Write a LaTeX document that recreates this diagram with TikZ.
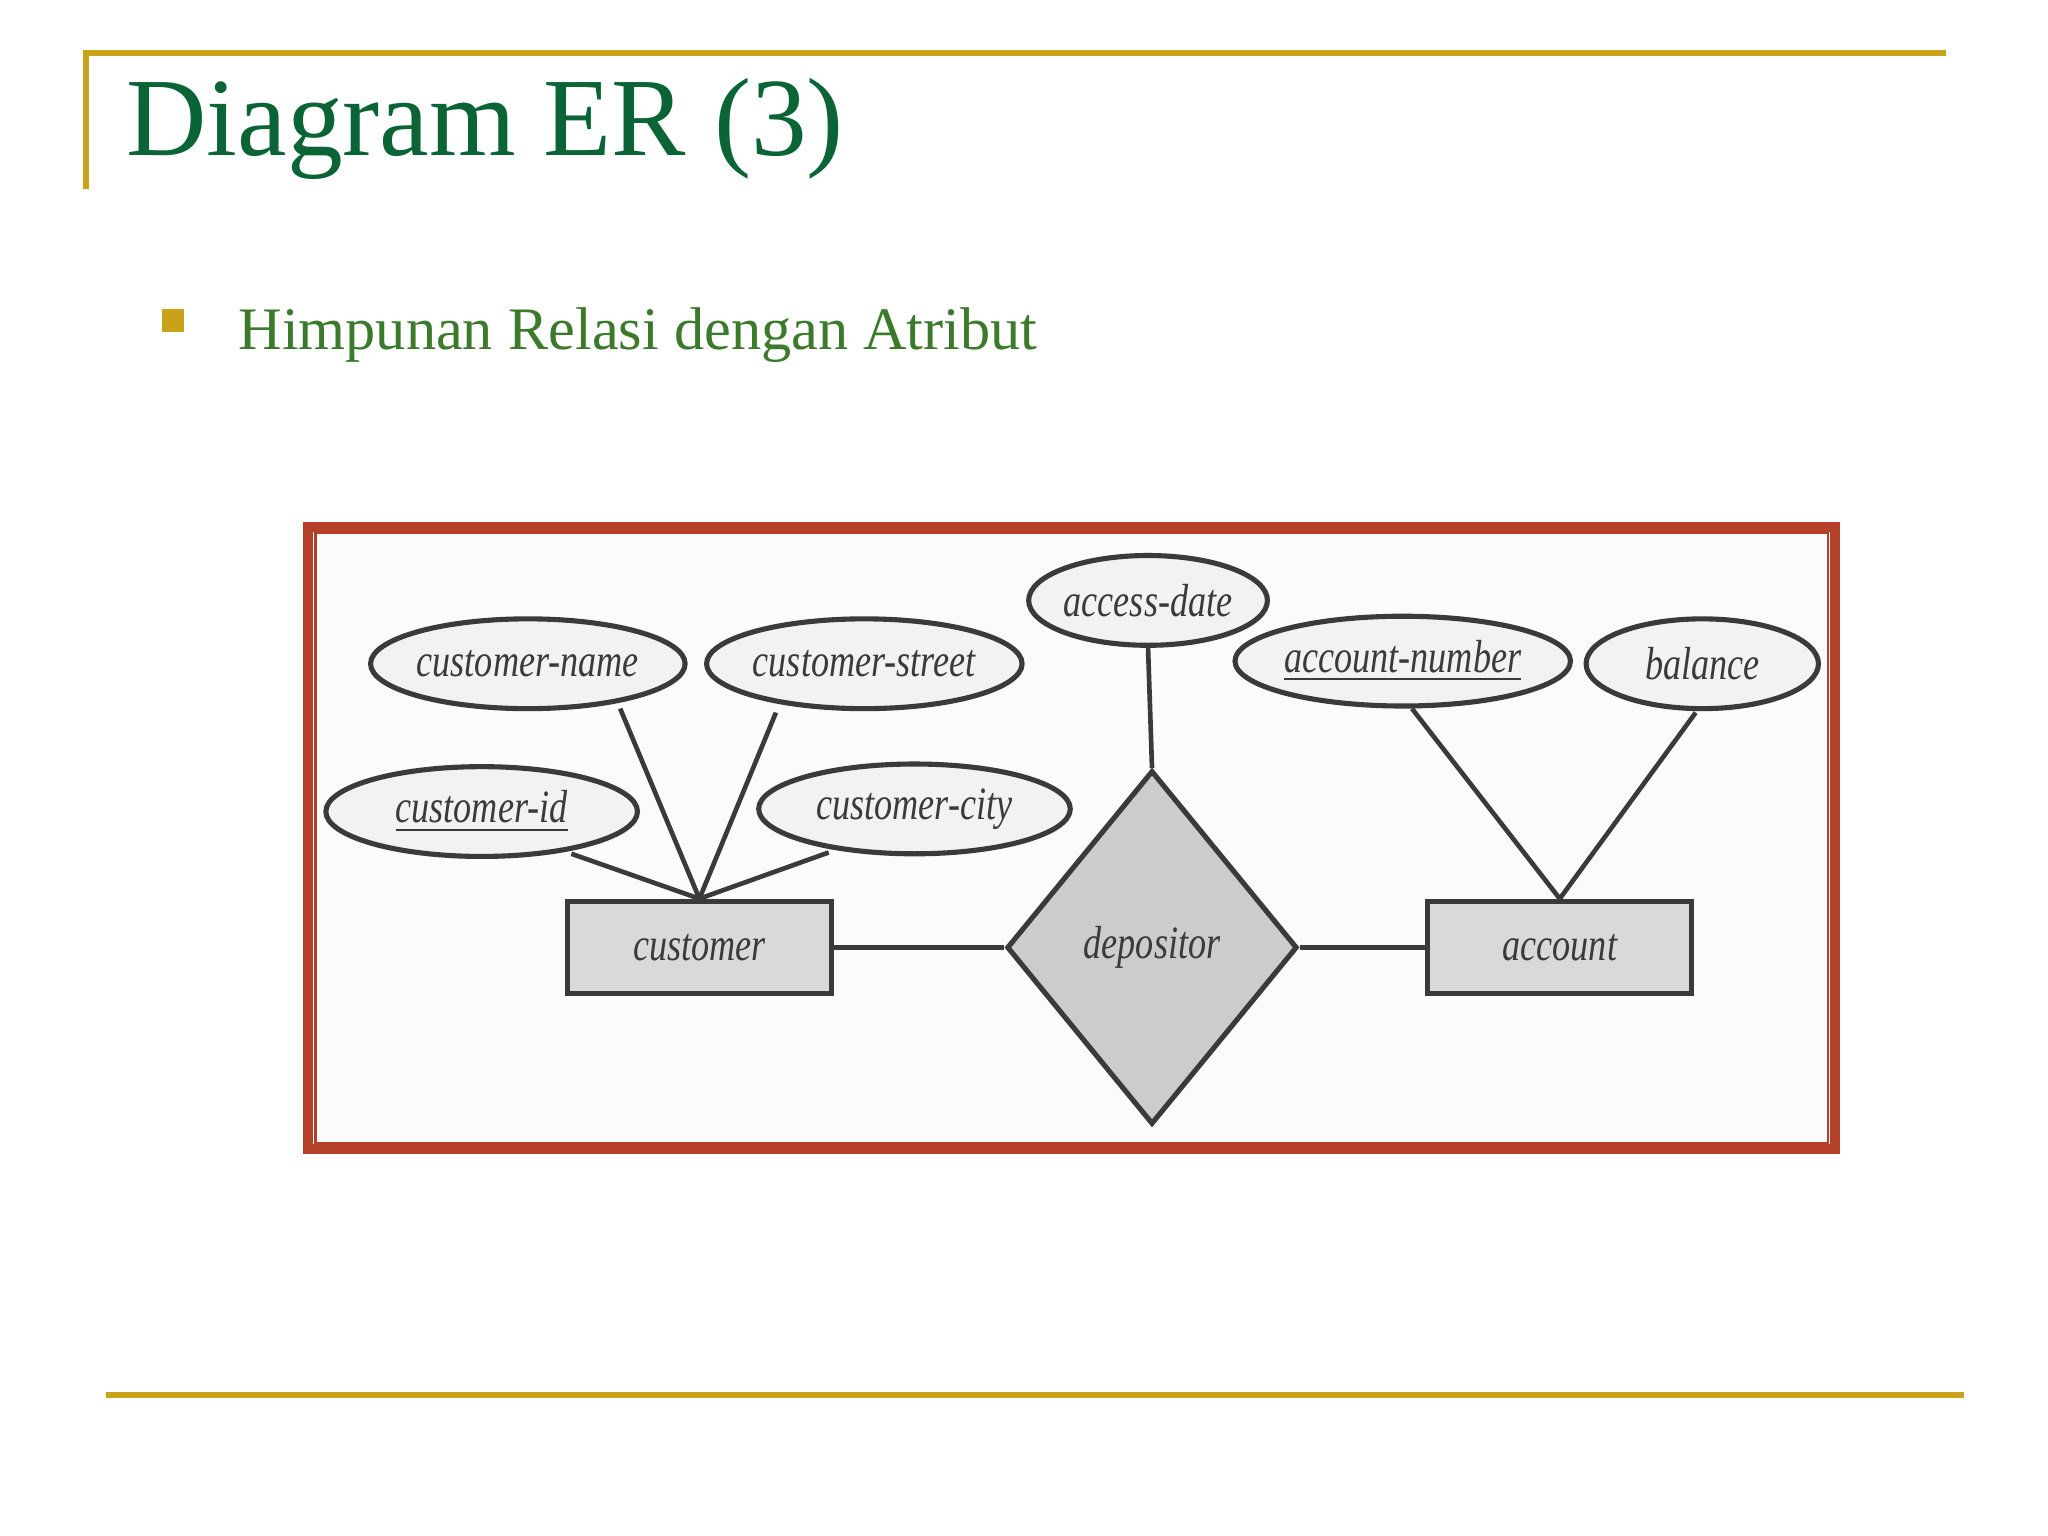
\documentclass[tikz,border=0pt]{standalone}
\usepackage{fontspec}
\setmainfont{Liberation Serif}
\usetikzlibrary{shapes.geometric}
\definecolor{gold}{HTML}{C9A21A}
\definecolor{ttl}{HTML}{0B6436}
\definecolor{sub}{HTML}{3A7A2A}
\definecolor{frm}{HTML}{B5402A}
\definecolor{ink}{HTML}{3A3A3A}
\newcommand{\sq}[1]{\scalebox{0.78}[1]{#1}}
\tikzset{
 attr/.style={ellipse,draw=ink,line width=1.1pt,fill=gray!10,minimum width=#1,minimum height=0.68cm,inner sep=0pt,font=\fontsize{10}{10}\selectfont\itshape,text=ink},
 ent/.style={rectangle,draw=ink,line width=1.1pt,fill=gray!30,minimum width=2cm,minimum height=0.7cm,font=\fontsize{10}{10}\selectfont\itshape,text=ink},
 rel/.style={diamond,draw=ink,line width=1.1pt,fill=gray!40,minimum width=2.2cm,minimum height=2.68cm,inner sep=0pt,font=\fontsize{10}{10}\selectfont\itshape,text=ink},
 conn/.style={draw=ink,line width=1pt},
 rule/.style={draw=gold,line width=1.4pt}
}
\begin{document}
\begin{tikzpicture}[x=0.01cm,y=-0.01cm]
\useasboundingbox (0,0) rectangle (1552,1164);
\draw[rule] (65,143) coordinate (v0) -- (65,40) coordinate (t0) -- (1475,40) coordinate (t1);
\draw[rule] (80,1057) coordinate (b0) -- (1488,1057) coordinate (b1);
\node[anchor=base west,inner sep=0pt,text=ttl,font=\fontsize{24}{24}\selectfont] (title) at (95,118) {Diagram ER (3)};
\node[fill=gold,minimum size=0.17cm,inner sep=0pt] (bul) at (131,243) {};
\node[anchor=base west,inner sep=0pt,text=sub,font=\fontsize{13}{13}\selectfont] (subt) at (180,265) {Himpunan Relasi dengan Atribut};
\node[draw=frm,line width=2.2pt,fill=gray!3,minimum width=11.56cm,minimum height=4.71cm,inner sep=0pt] (frame) at (812,635) {};
\draw[frm,line width=0.5pt] (239,404) rectangle (1385,866);
\node[attr=2.36cm] (cn) at (400,503) {\sq{customer-name}};
\node[attr=2.36cm] (cs) at (655,503) {\sq{customer-street}};
\node[attr=2.36cm] (ci) at (365,615) {\sq{\underline{customer-id}}};
\node[attr=2.36cm] (cc) at (693,613) {\sq{customer-city}};
\node[attr=1.76cm] (ad) at (870,455) {\sq{access-date}};
\node[attr=2.4cm] (an) at (1063,501) {\sq{\underline{account-number}}};
\node[attr=1.76cm] (ba) at (1290,503) {\sq{balance}};
\node[ent] (cu) at (530,718) {\sq{customer}};
\node[ent] (ac) at (1182,718) {\sq{account}};
\node[rel] (de) at (873,718) {\sq{depositor}};
\draw[conn] (cu.north) -- (470,537);
\draw[conn] (cu.north) -- (588,540);
\draw[conn] (cu.north) -- (433,647);
\draw[conn] (cu.north) -- (628,646);
\draw[conn] (ad.south) -- (de.north);
\draw[conn] (cu.east) -- (de.west);
\draw[conn] (de.east) -- (ac.west);
\draw[conn] (ac.north) -- (1070,537);
\draw[conn] (ac.north) -- (1285,540);
\end{tikzpicture}
\end{document}
